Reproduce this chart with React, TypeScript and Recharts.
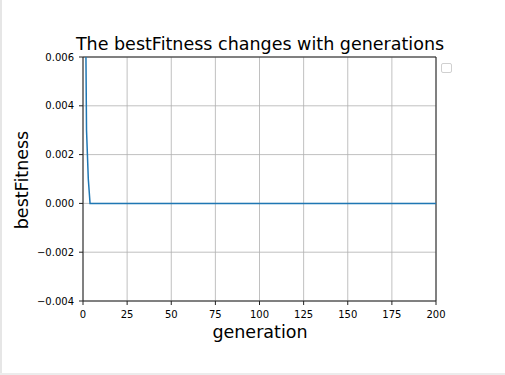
import React from "react";
import {
  LineChart,
  Line,
  XAxis,
  YAxis,
  CartesianGrid,
  ReferenceLine,
} from "recharts";

// generation -> bestFitness (all zero after gen 4)
const generations = [0, 1, 2, 3, 4, 5, 200];
const bestFitness = [0.05, 0.012, 0.003, 0.001, 0, 0, 0];

const xTicks = [0, 25, 50, 75, 100, 125, 150, 175, 200];
const yTicks = [-0.004, -0.002, 0, 0.002, 0.004, 0.006];
const yTickLabels = ["\u22120.004", "\u22120.002", "0.000", "0.002", "0.004", "0.006"];

const data = generations.map((g, i) => ({ generation: g, bestFitness: bestFitness[i] }));

const FONT = "'DejaVu Sans', sans-serif";
const SPINE = "#222";

export default function App() {
  return (
    <div
      style={{
        position: "absolute",
        left: 0,
        top: 0,
        width: 505,
        height: 375,
        background: "#fff",
        fontFamily: FONT,
        color: "#000",
      }}
    >
      <LineChart
        width={505}
        height={375}
        data={data}
        margin={{ top: 57, right: 69, bottom: 44, left: 0 }}
      >
        <CartesianGrid stroke="#b0b0b0" strokeWidth={0.8} />
        <XAxis
          dataKey="generation"
          type="number"
          domain={[0, 200]}
          ticks={xTicks}
          height={30}
          stroke={SPINE}
          tickSize={4}
          tickMargin={6}
          tick={{ fontSize: 10, fill: "#000", fontFamily: FONT }}
          interval={0}
        />
        <YAxis
          type="number"
          domain={[-0.004, 0.006]}
          ticks={yTicks}
          allowDataOverflow
          width={83}
          stroke={SPINE}
          tickSize={4}
          tickMargin={5}
          interval={0}
          tick={{ fontSize: 10, fill: "#000", fontFamily: FONT }}
          tickFormatter={(v: number) => {
            const i = yTicks.findIndex((t) => Math.abs(t - v) < 1e-9);
            return i >= 0 ? yTickLabels[i] : String(v);
          }}
        />
        <ReferenceLine y={0.006} stroke={SPINE} />
        <ReferenceLine x={200} stroke={SPINE} />
        <Line
          type="linear"
          dataKey="bestFitness"
          stroke="#1f77b4"
          strokeWidth={1.5}
          dot={false}
          isAnimationActive={false}
        />
      </LineChart>

      {/* title */}
      <div
        style={{
          position: "absolute",
          left: 60,
          width: 400,
          top: 34,
          textAlign: "center",
          fontSize: 17.5,
          lineHeight: "20px",
          whiteSpace: "nowrap",
        }}
      >
        The bestFitness changes with generations
      </div>

      {/* x axis label */}
      <div
        style={{
          position: "absolute",
          left: 160,
          width: 200,
          top: 322,
          textAlign: "center",
          fontSize: 17.5,
          lineHeight: "20px",
        }}
      >
        generation
      </div>

      {/* y axis label */}
      <div
        style={{
          position: "absolute",
          left: 22 - 60,
          top: 180 - 10,
          width: 120,
          textAlign: "center",
          fontSize: 17.5,
          lineHeight: "20px",
          transform: "rotate(-90deg)",
        }}
      >
        bestFitness
      </div>

      {/* empty legend */}
      <div
        style={{
          position: "absolute",
          left: 441,
          top: 63,
          width: 9,
          height: 8,
          border: "1px solid #d0d0d0",
          borderRadius: 2,
          background: "#fff",
        }}
      />

      {/* window edges */}
      <div style={{ position: "absolute", left: 0, top: 0, width: 2, height: 375, background: "#e6e6e6" }} />
      <div style={{ position: "absolute", left: 0, top: 373, width: 505, height: 2, background: "#ececec" }} />
    </div>
  );
}
